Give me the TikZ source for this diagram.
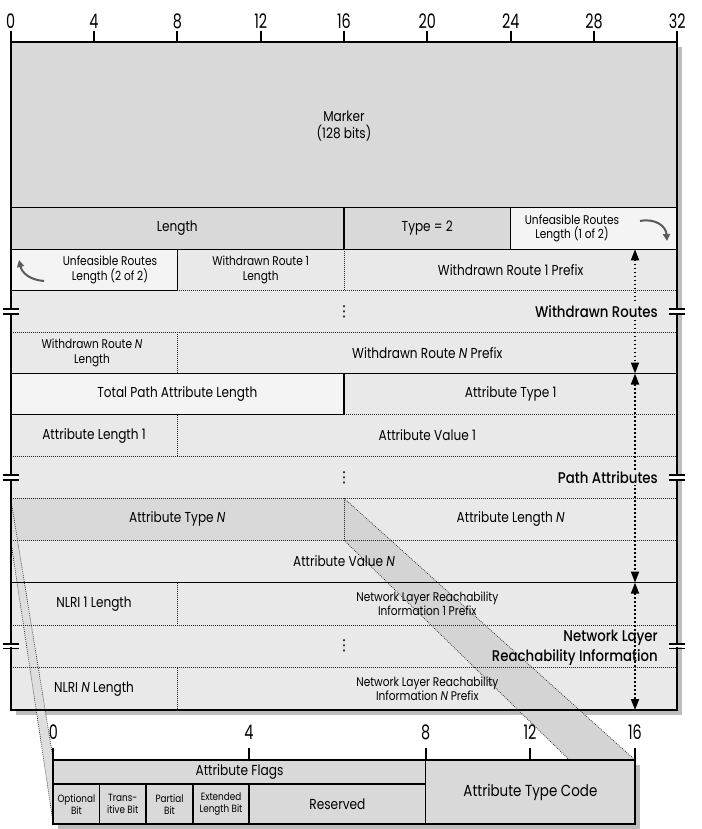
\documentclass[tikz,border=0pt]{standalone}
\usepackage{fontspec}
\setmainfont{Poppins}[FakeStretch=0.84]
\newfontfamily\rulerfont{Poppins}[FakeStretch=0.72]
\newfontfamily\medfont{Poppins Medium}[FakeStretch=0.86]
\newfontfamily\symfont{DejaVu Sans}
\usetikzlibrary{arrows.meta}
\definecolor{rowbg}{HTML}{E9E9E9}
\definecolor{darkbg}{HTML}{D9D9D9}
\definecolor{litebg}{HTML}{F4F4F4}
\definecolor{bandbg}{HTML}{D4D4D4}
\definecolor{lbandbg}{HTML}{DEDEDE}
\definecolor{shadowc}{HTML}{BDBDBD}
\definecolor{arrowgray}{HTML}{5A5A5A}
\tikzset{
  lbl/.style={font=\fontsize{14.4}{16.5}\selectfont, align=center, inner sep=1pt},
  sml/.style={font=\fontsize{12.6}{14.5}\selectfont, align=center, inner sep=1pt},
  bld/.style={font=\medfont\fontsize{15.5}{20}\selectfont, align=right, inner sep=1pt},
  tinylbl/.style={font=\fontsize{10.5}{12}\selectfont, align=center, inner sep=0.5pt},
  vdotlbl/.style={font=\symfont\fontsize{15}{15}\selectfont, inner sep=0pt},
  rul/.style={font=\rulerfont\fontsize{20}{21}\selectfont, anchor=south, inner sep=0pt},
  dotln/.style={line width=0.7pt, dash pattern=on 0.8pt off 1.2pt, black!85},
  solidln/.style={line width=1.1pt},
  mainborder/.style={line width=2pt},
  tickln/.style={line width=1.8pt},
  spanarrow/.style={line width=1.7pt, dash pattern=on 1.6pt off 2.4pt, {Triangle[length=11pt,width=8pt]}-{Triangle[length=11pt,width=8pt]}},
  curv/.style={arrowgray, line width=2pt, -{Triangle[length=7pt,width=7pt]}},
  brk/.style={line width=1.6pt},
}
\begin{document}
\begin{tikzpicture}[x=1pt,y=-1pt]
\useasboundingbox (0,0) rectangle (701,829);
% shadows
\fill[shadowc] (15.7,47.5) rectangle (682.3,715);
\fill[shadowc] (58.3,765) rectangle (640,829);
% row fills
\fill[darkbg] (10.7,42.5) rectangle (677.3,249.3);
\fill[litebg] (510.7,207.3) rectangle (677.3,249.3);
\fill[rowbg] (10.7,249.3) rectangle (677.3,710);
\fill[litebg] (10.7,249.3) rectangle (177.3,290.5);
\fill[litebg] (10.7,373.5) rectangle (344,414.8);
\fill[darkbg] (10.7,498.3) rectangle (344,540.2);
% bands
\fill[lbandbg] (10.7,498.3) -- (53.3,760) -- (53.3,824) -- (10.7,540.2) -- cycle;
\draw[dotln] (10.7,498.3) -- (53.3,760);
\draw[dotln] (10.7,540.2) -- (53.3,824);
\fill[bandbg] (344,498.3) -- (635,760) -- (635,824) -- (344,540.2) -- cycle;
\draw[dotln] (344,498.3) -- (635,760);
\draw[dotln] (344,540.2) -- (635,824);
% row separators
\draw[solidln] (10.7,207.3) -- (677.3,207.3);
\draw[solidln] (10.7,249.3) -- (677.3,249.3);
\draw[solidln] (10.7,290.5) -- (177.3,290.5);
\draw[dotln] (177.3,290.5) -- (677.3,290.5);
\draw[dotln] (10.7,332) -- (677.3,332);
\draw[solidln] (10.7,373.5) -- (677.3,373.5);
\draw[solidln] (10.7,414.8) -- (344,414.8);
\draw[dotln] (344,414.8) -- (677.3,414.8);
\draw[dotln] (10.7,456.3) -- (677.3,456.3);
\draw[dotln] (10.7,498.3) -- (677.3,498.3);
\draw[dotln] (10.7,540.2) -- (677.3,540.2);
\draw[solidln] (10.7,582.6) -- (677.3,582.6);
\draw[dotln] (10.7,625) -- (677.3,625);
\draw[dotln] (10.7,667.6) -- (677.3,667.6);
% verticals
\draw[solidln] (344,207.3) -- (344,249.3);
\draw[solidln] (510.7,207.3) -- (510.7,249.3);
\draw[solidln] (177.3,249.3) -- (177.3,290.5);
\draw[dotln] (344,249.3) -- (344,290.5);
\draw[dotln] (177.3,332) -- (177.3,373.5);
\draw[solidln] (344,373.5) -- (344,414.8);
\draw[dotln] (177.3,414.8) -- (177.3,456.3);
\draw[dotln] (344,498.3) -- (344,540.2);
\draw[dotln] (177.3,582.6) -- (177.3,625);
\draw[dotln] (177.3,667.6) -- (177.3,710);
% span arrows
\coordinate (wrA) at (635,249.3);
\coordinate (wrB) at (635,373.5);
\coordinate (paB) at (635,582.6);
\coordinate (nlB) at (635,710);
\draw[spanarrow] (wrA) -- (wrB);
\draw[spanarrow] (wrB) -- (paB);
\draw[spanarrow] (paB) -- (nlB);
% texts
\node[lbl] (marker) at (344,126) {Marker\\(128 bits)};
\node[lbl] (length) at (177.3,228.3) {Length};
\node[lbl] (type) at (427.3,228.3) {Type = 2};
\node[sml] (unfa) at (572,228.3) {Unfeasible Routes\\Length (1 of 2)};
\node[sml] (unfb) at (110,270) {Unfeasible Routes\\Length (2 of 2)};
\node[sml] (wrilen) at (260.7,270) {Withdrawn Route 1\\Length};
\node[lbl] (wripfx) at (510.7,270) {Withdrawn Route 1 Prefix};
\node[vdotlbl] (vda) at (344,311.5) {⋮};
\node[bld, fill=rowbg, anchor=east] (wrlabel) at (659,311.5) {Withdrawn Routes};
\node[sml] (wrnlen) at (92,353) {Withdrawn Route \textit{N}\\Length};
\node[lbl] (wrnpfx) at (427.3,353) {Withdrawn Route \textit{N} Prefix};
\node[lbl] (tpal) at (177.3,394) {Total Path Attribute Length};
\node[lbl] (atone) at (510.7,394) {Attribute Type 1};
\node[lbl] (alone) at (94,435.5) {Attribute Length 1};
\node[lbl] (avone) at (427.3,435.5) {Attribute Value 1};
\node[vdotlbl] (vdb) at (344,477.5) {⋮};
\node[bld, fill=rowbg, anchor=east] (palabel) at (659,477.5) {Path Attributes};
\node[lbl] (atn) at (177.3,519) {Attribute Type \textit{N}};
\node[lbl] (aln) at (510.7,519) {Attribute Length \textit{N}};
\node[lbl] (avn) at (344,561.5) {Attribute Value \textit{N}};
\node[lbl] (nlilen) at (94,604) {NLRI 1 Length};
\node[sml] (nlipfx) at (427.3,604) {Network Layer Reachability\\Information 1 Prefix};
\node[vdotlbl] (vdc) at (344,646) {⋮};
\node[bld, anchor=east] (nllabel) at (659,647.5) {Network Layer\\Reachability Information};
\node[lbl] (nlnlen) at (94,689) {NLRI \textit{N} Length};
\node[sml] (nlnpfx) at (427.3,689) {Network Layer Reachability\\Information \textit{N} Prefix};
% curved arrows
\coordinate (ca) at (640,221);
\coordinate (cb) at (667,241);
\draw[curv] (ca) .. controls (655,218) and (666,226) .. (cb);
\coordinate (cc) at (44,281);
\coordinate (cd) at (19,260);
\draw[curv] (cc) .. controls (30,280) and (22,273) .. (cd);
% main border
\draw[mainborder] (10.7,42.5) rectangle (677.3,710);
% top ruler
\foreach \b/\x in {0/10.7,4/94,8/177.3,12/260.7,16/344,20/427.3,24/510.7,28/594,32/677.3}{
  \draw[tickln] (\x,31.5) -- (\x,42.5);
  \node[rul] (t\b) at (\x,29) {\b};
}
% break marks
\foreach \yy in {311.5,477.5,646}{
  \foreach \xx in {10.7,677.3}{
    \fill[white] (\xx-8,\yy-1.2) rectangle (\xx+8,\yy+1.2);
    \draw[brk] (\xx-8,\yy-2.3) -- (\xx+8,\yy-2.3);
    \draw[brk] (\xx-8,\yy+2.3) -- (\xx+8,\yy+2.3);
  }
}
% bottom box
\fill[darkbg] (53.3,760) rectangle (635,824);
\draw[solidln] (53.3,784) -- (425.7,784);
\foreach \x in {99.5,146,193,249}{\draw[solidln] (\x,784) -- (\x,824);}
\draw[solidln] (425.7,760) -- (425.7,824);
\draw[mainborder] (53.3,760) rectangle (635,824);
\node[lbl, font=\fontsize{14.5}{16}\selectfont] (flags) at (239.5,772) {Attribute Flags};
\node[tinylbl] (optb) at (76.4,804) {Optional\\Bit};
\node[tinylbl] (trab) at (122.7,804) {Trans-\\itive Bit};
\node[tinylbl] (parb) at (169.5,804) {Partial\\Bit};
\node[tinylbl] (extb) at (221,804) {Extended\\Length Bit};
\node[lbl, font=\fontsize{14.5}{16}\selectfont] (resv) at (337.4,804) {Reserved};
\node[lbl, font=\fontsize{16}{18}\selectfont] (atc) at (530.4,792) {Attribute Type Code};
\foreach \b/\x in {0/53.3,4/249,8/425.7,12/530,16/635}{
  \draw[tickln] (\x,748) -- (\x,760);
  \node[rul] (bt\b) at (\x,740) {\b};
}
\end{tikzpicture}
\end{document}
